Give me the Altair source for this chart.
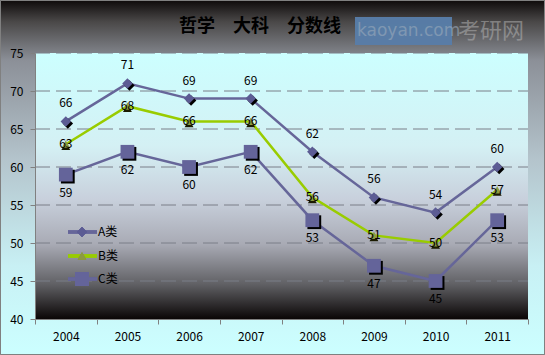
import altair as alt
import pandas as pd

years = ["2004", "2005", "2006", "2007", "2008", "2009", "2010", "2011"]
a_vals = [66, 71, 69, 69, 62, 56, 54, 60]
b_vals = [63, 68, 66, 66, 56, 51, 50, 57]
c_vals = [59, 62, 60, 62, 53, 47, 45, 53]
series_names = ["A类", "B类", "C类"]
y_ticks = [40, 45, 50, 55, 60, 65, 70, 75]
title_text = "哲学　大科　分数线"

W, H = 493, 266
PL, PT = 35, 53
FONT = "Noto Sans CJK SC"
SLATE = "#666699"
GREEN = "#99cc00"

dfa = pd.DataFrame({"year": years, "value": a_vals})
dfb = pd.DataFrame({"year": years, "value": b_vals})
dfc = pd.DataFrame({"year": years, "value": c_vals})
dgrid = pd.DataFrame({"value": y_ticks[1:]})

xs = alt.Scale(domain=years, paddingInner=0, paddingOuter=0)
ys = alt.Scale(domain=[40, 75], nice=False, zero=False)

X = alt.X("year:O", scale=xs, axis=alt.Axis(
    title=None, labelAngle=0, tickBand="extent", grid=False, zindex=1,
    domainColor="#808080", tickColor="#808080", tickSize=5,
    labelFont=FONT, labelFontSize=12, labelColor="#000000", labelPadding=7))
Y = alt.Y("value:Q", scale=ys, axis=alt.Axis(
    title=None, values=y_ticks, grid=False, zindex=1, labelOverlap=False,
    domainColor="#808080", tickColor="#808080", tickSize=5,
    labelFont=FONT, labelFontSize=12, labelColor="#000000", labelPadding=7))

outer_grad = alt.Gradient(gradient="linear", x1=0, x2=0, y1=0, y2=1, stops=[
    alt.GradientStop(color="#0f0b0b", offset=0),
    alt.GradientStop(color="#4a4848", offset=0.06),
    alt.GradientStop(color="#8c9098", offset=0.17),
    alt.GradientStop(color="#b4c4cc", offset=0.45),
    alt.GradientStop(color="#c8f0f4", offset=0.75),
    alt.GradientStop(color="#ccffff", offset=1),
])
plot_grad = alt.Gradient(gradient="linear", x1=0, x2=0, y1=0, y2=1, stops=[
    alt.GradientStop(color="#ccffff", offset=0),
    alt.GradientStop(color="#d4f0f4", offset=0.35),
    alt.GradientStop(color="#c8d0dc", offset=0.55),
    alt.GradientStop(color="#a8aab4", offset=0.72),
    alt.GradientStop(color="#606064", offset=0.87),
    alt.GradientStop(color="#0a0606", offset=1),
])

base = alt.Chart(dfa)
outer_bg = base.mark_rect(color=outer_grad, stroke="#808080", strokeWidth=1).encode(
    x=alt.value(-PL + 0.5), x2=alt.value(545 - PL - 0.5),
    y=alt.value(-PT + 0.5), y2=alt.value(355 - PT - 0.5))
plot_bg = base.mark_rect(color=plot_grad).encode(
    x=alt.value(0), x2=alt.value(W), y=alt.value(0), y2=alt.value(H))

grid = alt.Chart(dgrid).mark_rule(color="#7a7e88", strokeDash=[15, 6], strokeWidth=1).encode(
    y=Y, x=alt.value(0), x2=alt.value(W))

def series(df, color, shape, size, fill, shadow, label_dy):
    layers = []
    layers.append(alt.Chart(df).mark_line(color=color, strokeWidth=2.5).encode(x=X, y=Y))
    if shadow:
        layers.append(alt.Chart(df).mark_point(shape=shape, size=size, filled=True,
                                               color="#000000", opacity=1, xOffset=2, yOffset=2).encode(x=X, y=Y))
    layers.append(alt.Chart(df).mark_point(shape=shape, size=size, filled=True,
                                           color=fill, opacity=1).encode(x=X, y=Y))
    layers.append(alt.Chart(df).mark_text(font=FONT, fontSize=12, color="#000000", dy=label_dy).encode(
        x=X, y=Y, text=alt.Text("value:Q")))
    return layers

la = series(dfa, SLATE, "diamond", 110, "#5c5c94", True, -18)
lb_line = alt.Chart(dfb).mark_line(color=GREEN, strokeWidth=2.5).encode(x=X, y=Y)
lb_pts_shadow = alt.Chart(dfb).mark_point(shape="triangle-up", size=80, filled=True, color="#1a1a00",
                                          opacity=1, yOffset=2).encode(x=X, y=Y)
lb_pts = alt.Chart(dfb).mark_point(shape="triangle-up", size=70, filled=True, color="#8c9a40",
                                   opacity=1).encode(x=X, y=Y)
lb_text = alt.Chart(dfb).mark_text(font=FONT, fontSize=12, color="#000000", dy=0).encode(
    x=X, y=Y, text=alt.Text("value:Q"))
lc = series(dfc, SLATE, "square", 190, "#64649a", True, 18)

# legend
leg = []
leg_cfg = [(series_names[0], SLATE, "diamond", 90, "#5c5c94"),
           (series_names[1], GREEN, "triangle-up", 70, "#8c9a40"),
           (series_names[2], SLATE, "square", 190, "#64649a")]
leg_y = [179, 203, 226]
for (name, col, shp, sz, fc), ly in zip(leg_cfg, leg_y):
    leg.append(base.mark_rule(color=col, strokeWidth=2.5).encode(
        x=alt.value(33), x2=alt.value(62), y=alt.value(ly)))
    leg.append(base.mark_point(shape=shp, size=sz, filled=True, color=fc, opacity=1).encode(
        x=alt.value(47), y=alt.value(ly)))
    leg.append(alt.Chart(pd.DataFrame({"t": [name]})).mark_text(
        font=FONT, fontSize=12, color="#000000", align="left", baseline="middle").encode(
        x=alt.value(63), y=alt.value(ly), text="t:N"))

# title and watermark
wm_box = base.mark_rect(color="#5a7eaa", opacity=0.35).encode(
    x=alt.value(355 - PL), x2=alt.value(452 - PL), y=alt.value(17 - PT), y2=alt.value(45 - PT))
wm_text = alt.Chart(pd.DataFrame({"t": ["kaoyan.com"]})).mark_text(
    font="DejaVu Sans", fontSize=17, color="#9aaabb", opacity=0.6, align="left", baseline="middle").encode(
    x=alt.value(357 - PL), y=alt.value(31 - PT), text="t:N")
wm_cn = alt.Chart(pd.DataFrame({"t": ["考研网"]})).mark_text(
    font=FONT, fontSize=22, color="#b8b8b8", opacity=0.5, align="left", baseline="middle").encode(
    x=alt.value(458 - PL), y=alt.value(31 - PT), text="t:N")
title = alt.Chart(pd.DataFrame({"t": [title_text]})).mark_text(
    font=FONT, fontSize=18, fontWeight="bold", color="#000000", align="center", baseline="middle").encode(
    x=alt.value(260 - PL), y=alt.value(27 - PT), text="t:N")

chart = alt.layer(
    outer_bg, plot_bg, grid,
    *la[:1], lb_line, *lc[:1],
    *la[1:3], lb_pts_shadow, lb_pts, *lc[1:3],
    la[3], lb_text, lc[3],
    *leg, wm_box, wm_text, wm_cn, title
).properties(
    width=W, height=H,
    autosize=alt.AutoSizeParams(type="none"),
    padding={"left": PL, "top": PT, "right": 545 - PL - W, "bottom": 355 - PT - H},
).configure_view(stroke=None)

chart.save("out.html", embed_options={"renderer": "svg", "actions": False})
